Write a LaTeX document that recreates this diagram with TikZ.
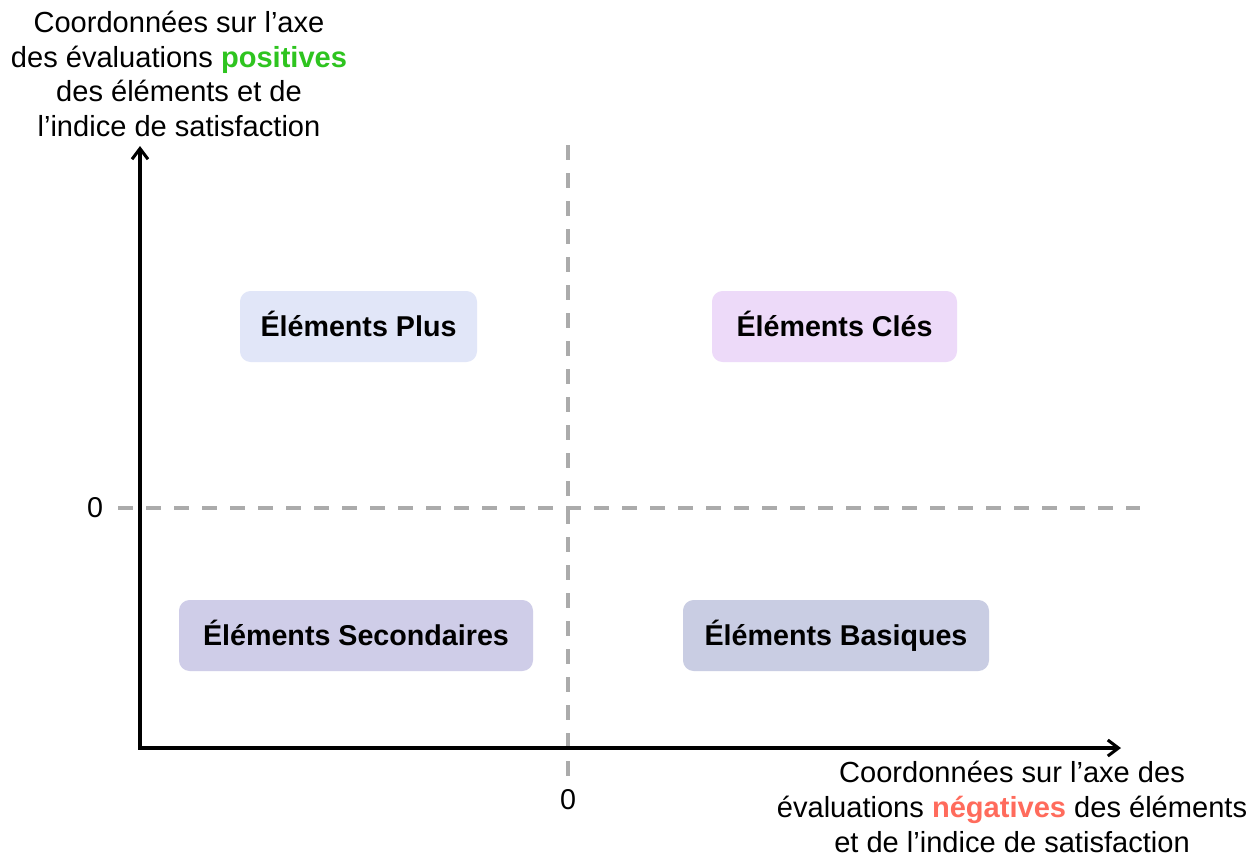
\documentclass[tikz,border=0pt]{standalone}
\usepackage{fontspec}
\setmainfont{Liberation Sans}
\usetikzlibrary{arrows.meta}
\definecolor{posgreen}{HTML}{2EC41F}
\definecolor{negred}{HTML}{FF6B5C}
\definecolor{cplus}{HTML}{E1E6F8}
\definecolor{ccles}{HTML}{EDDAF9}
\definecolor{csec}{HTML}{CFCDE8}
\definecolor{cbas}{HTML}{C9CDE3}
\definecolor{dashgray}{HTML}{ABABAB}
\tikzset{
  axis/.style={line width=2.5pt, -{Straight Barb[length=8pt,width=12pt,line width=2.3pt]}},
  guide/.style={line width=2.4pt, dashgray, dash pattern=on 11pt off 10pt},
  quad/.style={draw=none, font=\fontsize{21.5}{25}\selectfont\bfseries, text=black, anchor=base},
  lbl/.style={font=\fontsize{21.8}{26}\selectfont, align=center, text=black},
  zero/.style={font=\fontsize{21.5}{25}\selectfont}
}
\begin{document}
\begin{tikzpicture}[x=0.75pt,y=-0.75pt]
\useasboundingbox (0,0) rectangle (1260,857);
\fill[white] (0,0) rectangle (1260,857);
% dashed guides
\draw[guide] (118,508) -- (1140,508);
\draw[guide] (568,145) -- (568,782);
% boxes
\fill[cplus, rounded corners=8pt] (240,291) rectangle (477,362);
\fill[ccles, rounded corners=8pt] (712,291) rectangle (957,362);
\fill[csec, rounded corners=8pt] (179,600) rectangle (533,671);
\fill[cbas, rounded corners=8pt] (683,600) rectangle (989,671);
\node[quad] (plus) at (358.5,336) {Éléments Plus};
\node[quad] (cles) at (834.5,336) {Éléments Clés};
\node[quad] (sec) at (356,645) {Éléments Secondaires};
\node[quad] (bas) at (836,645) {Éléments Basiques};
% axes
\coordinate (o) at (140,748);
\coordinate (ytip) at (140,146);
\coordinate (xtip) at (1121,748);
\draw[axis] (o) -- (ytip);
\draw[axis] ([xshift=-1.2pt]o) -- (xtip);
% zeros
\node[zero] (z1) at (95,508) {0};
\node[zero] (z2) at (568,800) {0};
% axis labels
\node[lbl] (ylab) at (179,74) {Coordonnées sur l’axe\\des évaluations \textcolor{posgreen}{\bfseries positives}\\des éléments et de\\l’indice de satisfaction};
\node[lbl] (xlab) at (1012,807) {Coordonnées sur l’axe des\\évaluations \textcolor{negred}{\bfseries négatives} des éléments\\et de l’indice de satisfaction};
\end{tikzpicture}
\end{document}
